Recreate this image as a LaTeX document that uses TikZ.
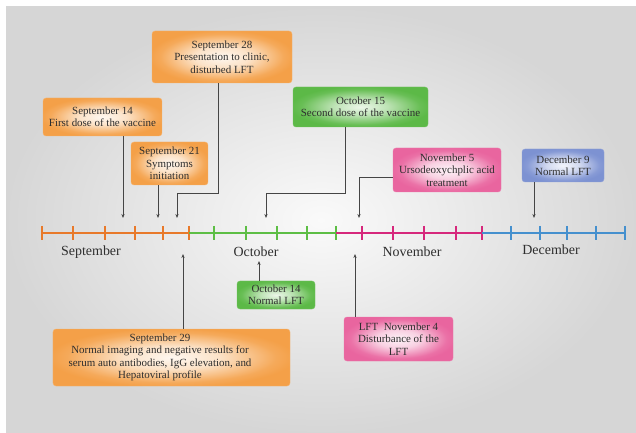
\documentclass[tikz,border=0pt]{standalone}
\usepackage{fontspec}
\setmainfont{Liberation Serif}
\usetikzlibrary{arrows.meta}
\definecolor{obg}{HTML}{F4A048}
\definecolor{gbg}{HTML}{5CB947}
\definecolor{pbg}{HTML}{E9659F}
\definecolor{bbg}{HTML}{7D92D2}
\definecolor{oline}{HTML}{E8792A}
\definecolor{gline}{HTML}{5DBE45}
\definecolor{pline}{HTML}{D6287C}
\definecolor{bline}{HTML}{4590CE}
\definecolor{conn}{HTML}{454545}
\definecolor{txt}{HTML}{2E2E2E}
\pgfdeclareradialshading{oshade}{\pgfpoint{0bp}{0bp}}{color(0bp)=(obg!8!white); color(10bp)=(obg!30!white); color(22bp)=(obg!90!white); color(26bp)=(obg); color(50bp)=(obg)}
\pgfdeclareradialshading{gshade}{\pgfpoint{0bp}{0bp}}{color(0bp)=(gbg!12!white); color(10bp)=(gbg!40!white); color(22bp)=(gbg!92!white); color(26bp)=(gbg); color(50bp)=(gbg)}
\pgfdeclareradialshading{pshade}{\pgfpoint{0bp}{0bp}}{color(0bp)=(pbg!8!white); color(10bp)=(pbg!30!white); color(22bp)=(pbg!92!white); color(26bp)=(pbg); color(50bp)=(pbg)}
\pgfdeclareradialshading{bshade}{\pgfpoint{0bp}{0bp}}{color(0bp)=(bbg!10!white); color(10bp)=(bbg!35!white); color(22bp)=(bbg!92!white); color(26bp)=(bbg); color(50bp)=(bbg)}
\tikzset{
  box/.style={rounded corners=3bp, align=center, text=txt, inner sep=1bp,
    font=\fontsize{11}{12.4}\selectfont},
  obox/.style={box, shade, shading=oshade, draw=obg!80!white},
  gbox/.style={box, shade, shading=gshade, draw=gbg!85!white},
  pbox/.style={box, shade, shading=pshade, draw=pbg!85!white},
  bbox/.style={box, shade, shading=bshade, draw=bbg!85!white},
  plain/.style={align=center, text=txt, inner sep=0bp, font=\fontsize{11}{12.4}\selectfont},
  month/.style={text=txt, inner sep=0bp, font=\fontsize{14}{16}\selectfont},
  connector/.style={draw=conn, line width=0.8bp, -{Stealth[length=4bp,width=3.2bp]}},
  tl/.style={line width=1.3bp},
}
\begin{document}
\begin{tikzpicture}[x=1bp,y=-1bp]
\useasboundingbox (0,0) rectangle (636,433);
\fill[white] (0,0) rectangle (636,433);
\shade[inner color=gray!4, outer color=gray!32] (6,7) rectangle (636,433);

% timeline
\draw[tl, oline] (42,233) -- (189,233);
\foreach \x in {42,73,105,135,163,189} \draw[tl, oline] (\x,226) -- (\x,240);
\draw[tl, gline] (189,233) -- (336,233);
\foreach \x in {214,246,277,307} \draw[tl, gline] (\x,226) -- (\x,240);
\draw[tl, gline] (336,226) -- (336,240);
\draw[tl, pline] (336,233) -- (482,233);
\foreach \x in {362,393,424,456,482} \draw[tl, pline] (\x,226) -- (\x,240);
\draw[tl, bline] (482,233) -- (625,233);
\foreach \x in {511,540,567,596,625} \draw[tl, bline] (\x,226) -- (\x,240);

\node[month] (msep) at (91,252) {September};
\node[month] (moct) at (256,252) {October};
\node[month] (mnov) at (412,252) {November};
\node[month] (mdec) at (551,250) {December};

% boxes
\node[obox, minimum width=140bp, minimum height=52bp] (s28) at (222,57)
  {September 28\\Presentation to clinic,\\disturbed LFT};
\node[obox, minimum width=119bp, minimum height=38bp] (s14) at (102.5,117)
  {September 14\\First dose of the vaccine};
\node[obox, minimum width=77bp, minimum height=43bp] (s21) at (169.5,163.5)
  {September 21\\Symptoms\\initiation};
\node[gbox, minimum width=135bp, minimum height=40bp] (o15) at (360.5,107)
  {October 15\\Second dose of the vaccine};
\node[pbox, minimum width=108bp, minimum height=44bp] (n5) at (447,170)
  {November 5\\Ursodeoxychplic acid\\treatment};
\node[bbox, minimum width=82bp, minimum height=33bp] (d9) at (563,165.5)
  {December 9\\Normal LFT};
\node[gbox, minimum width=78bp, minimum height=28bp] (o14) at (276,295)
  {October 14\\Normal LFT};
\node[obox, minimum width=237bp, minimum height=57bp] (s29) at (171.5,357.5) {};
\node[plain] (s29t) at (160,357.5)
  {September 29\\Normal imaging and negative results for\\serum auto antibodies, IgG elevation, and\\Hepatoviral profile};
\node[pbox, minimum width=109bp, minimum height=44bp] (n4) at (398.5,339)
  {LFT\ \ November 4\\Disturbance of the\\LFT};

% arrow end points on the timeline
\coordinate (a14) at (123,218);
\coordinate (a21) at (158,218);
\coordinate (a28) at (177,218);
\coordinate (a15) at (266,218);
\coordinate (a5) at (359,218);
\coordinate (a9) at (534,218);
\coordinate (a29) at (183,254);
\coordinate (a14o) at (259,261);
\coordinate (a4) at (355,254);

\draw[connector] (s14.south -| a14) -- (a14);
\draw[connector] (s21.south -| a21) -- (a21);
\draw[connector] (s28.south -| 218,0) -- (218,193) -| (a28);
\draw[connector] (o15.south -| 345,0) -- (345,193) -| (a15);
\draw[connector] (n5.west |- 0,177) -| (a5);
\draw[connector] (d9.south -| a9) -- (a9);
\draw[connector] (s29.north -| a29) -- (a29);
\draw[connector] (o14.north -| a14o) -- (a14o);
\draw[connector] (n4.north -| a4) -- (a4);
\end{tikzpicture}
\end{document}
